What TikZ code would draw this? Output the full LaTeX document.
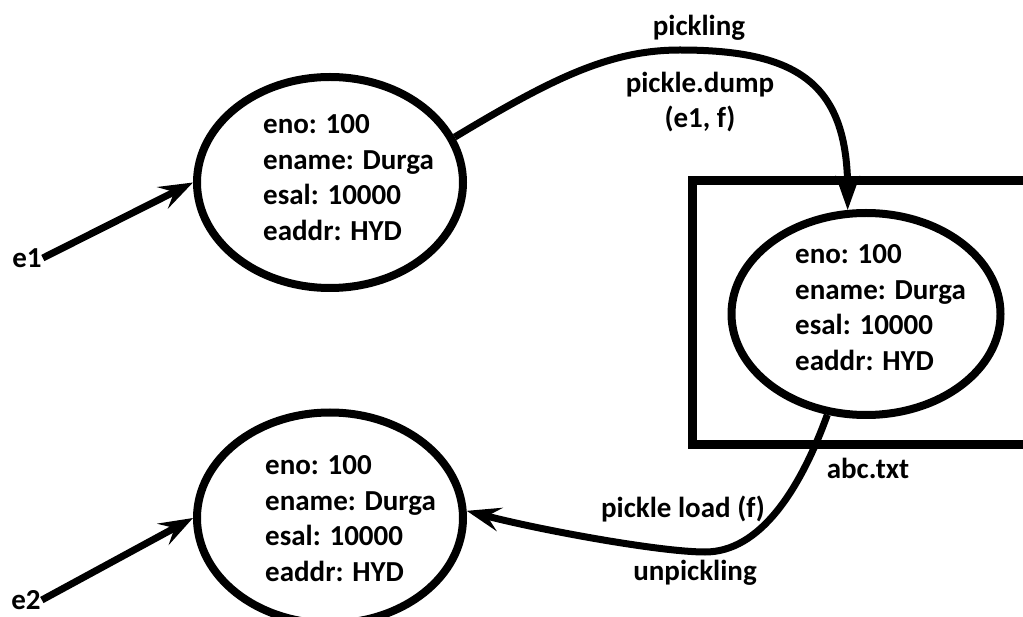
\documentclass[tikz,border=0pt]{standalone}
\usepackage{fontspec}
\setmainfont{Carlito}
\usetikzlibrary{arrows.meta,shapes.geometric}
\begin{document}
\begin{tikzpicture}[x=1pt,y=-1pt,
  obj/.style={draw,ellipse,line width=8pt,minimum width=266pt,minimum height=211pt,inner sep=0pt},
  txt/.style={align=left,inner sep=0pt,anchor=west,font=\bfseries\fontsize{29}{35.5}\selectfont},
  lbl/.style={inner sep=1pt,font=\bfseries\fontsize{29}{35.5}\selectfont},
  conn/.style={line width=7pt,-{Stealth[length=34pt,width=24pt,inset=13pt]}},
  filebox/.style={draw,line width=9pt,minimum width=350pt,minimum height=264pt,inner sep=0pt}]
\useasboundingbox (0,0) rectangle (1023,617);
% file box
\node[filebox] (file) at (867.5,313) {};
\node[lbl] (abc) at (868,468) {abc.txt};
% ellipses
\node[obj] (obj1) at (330,182.5) {};
\node[obj] (obj2) at (330,518) {};
\node[obj,minimum width=269pt,minimum height=202pt] (obj3) at (866,314) {};
\node[txt] (t1) at (263,177.4) {eno: 100\\ename: Durga\\esal: 10000\\eaddr: HYD};
\node[txt] (t2) at (265,518.4) {eno: 100\\ename: Durga\\esal: 10000\\eaddr: HYD};
\node[txt] (t3) at (795,307.4) {eno: 100\\ename: Durga\\esal: 10000\\eaddr: HYD};
% references
\node[lbl] (e1) at (27,258) {e1};
\node[lbl] (e2) at (26,600) {e2};
\draw[conn] (e1.east) -- (obj1.west);
\draw[conn] (e2.east) -- (obj2.west);
% pickling
\coordinate (peak) at (680,50);
\draw[conn] (obj1.20) .. controls (553,78) and (610,50) .. (peak)
  .. controls (800,50) and (848,85) .. (obj3.100);
\node[lbl] (pk) at (699,28) {pickling};
\node[lbl,align=center] (pd) at (700,102) {pickle.dump\\(e1, f)};
% unpickling
\coordinate (low) at (705,552);
\draw[conn] (obj3.249) .. controls (800,490) and (760,552) .. (low)
  .. controls (660,552) and (540,530) .. (obj2.3);
\node[lbl] (pl) at (683,509) {pickle load (f)};
\node[lbl] (up) at (695,573) {unpickling};
\end{tikzpicture}
\end{document}
